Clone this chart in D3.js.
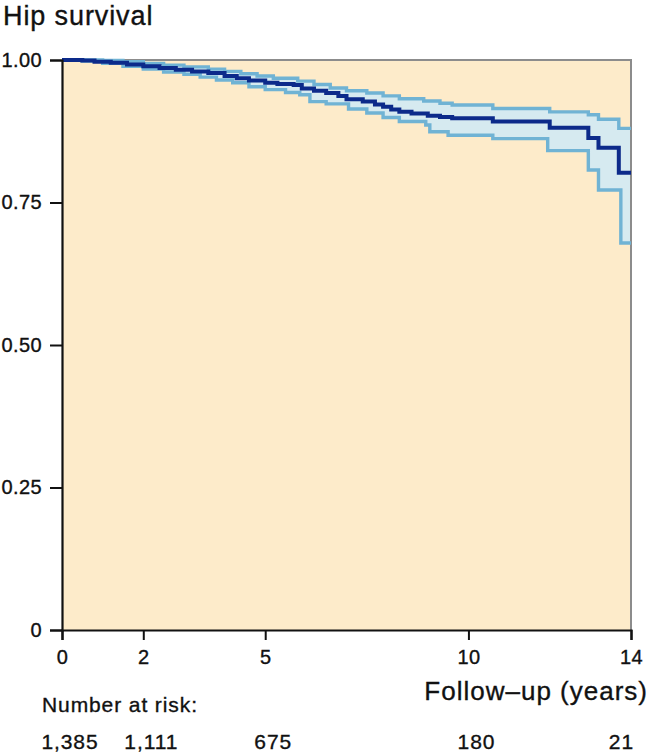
<!DOCTYPE html>
<html>
<head>
<meta charset="utf-8">
<script src="https://cdn.jsdelivr.net/npm/d3@7"></script>
<style>
  html, body { margin: 0; padding: 0; background: #ffffff; }
  svg { display: block; font-family: "Liberation Sans", Arial, Helvetica, sans-serif; }
</style>
</head>
<body>
<svg id="chart" width="650" height="753"></svg>
<script>
// ---------- data ----------
const mainT = [0, 0.5, 0.8, 1.2, 1.6, 2.0, 2.4, 2.8, 3.2, 3.6, 4.0, 4.3, 4.6, 5.0, 5.3, 5.7, 5.9, 6.2, 6.5, 6.8, 7.0, 7.4, 7.7, 7.9, 8.1, 8.3, 8.6, 9.0, 9.3, 9.6, 10.6, 12.0, 12.95, 13.2, 13.7];
const mainS = [1.0, 0.999, 0.997, 0.995, 0.992, 0.989, 0.986, 0.983, 0.980, 0.977, 0.972, 0.968, 0.964, 0.960, 0.958, 0.956, 0.950, 0.946, 0.942, 0.937, 0.931, 0.927, 0.922, 0.918, 0.913, 0.909, 0.906, 0.902, 0.900, 0.898, 0.892, 0.881, 0.863, 0.846, 0.802];

const upperT = [0, 0.5, 1.0, 1.5, 2.0, 2.5, 3.0, 3.6, 4.0, 4.4, 4.8, 5.2, 5.8, 6.2, 6.6, 7.0, 7.5, 7.9, 8.3, 8.9, 9.3, 9.6, 10.6, 12.0, 12.95, 13.2, 13.7];
const upperS = [1.0, 1.0, 0.999, 0.997, 0.994, 0.991, 0.988, 0.984, 0.980, 0.976, 0.972, 0.968, 0.963, 0.957, 0.951, 0.946, 0.942, 0.937, 0.932, 0.928, 0.924, 0.921, 0.915, 0.909, 0.904, 0.896, 0.880];

const lowerT = [0, 0.5, 1.0, 1.5, 2.0, 2.5, 3.0, 3.4, 3.8, 4.2, 4.6, 5.0, 5.5, 5.85, 6.1, 6.5, 7.05, 7.5, 7.9, 8.3, 8.95, 9.05, 9.5, 10.6, 11.95, 12.95, 13.2, 13.75];
const lowerS = [1.0, 0.998, 0.994, 0.989, 0.984, 0.979, 0.975, 0.970, 0.965, 0.960, 0.953, 0.948, 0.943, 0.939, 0.927, 0.923, 0.914, 0.907, 0.899, 0.892, 0.886, 0.874, 0.868, 0.862, 0.841, 0.807, 0.772, 0.679];

const xTicks = [0, 2, 5, 10, 14];
const yTicks = [0, 0.25, 0.5, 0.75, 1.0];
const riskTimes = [0, 2, 5, 10, 14];
const riskCounts = ["1,385", "1,111", "675", "180", "21"];

const titleText = "Hip survival";
const xLabelText = "Follow\u2013up (years)";
const riskLabelText = "Number at risk:";

// ---------- layout ----------
const W = 650, H = 753;
const margin = { left: 62, top: 60, right: 19, bottom: 123 };
const innerW = W - margin.left - margin.right;
const innerH = H - margin.top - margin.bottom;
const tMax = 14;
const ink = "#111111";

const svg = d3.select("#chart");
const x = d3.scaleLinear().domain([0, tMax]).range([margin.left, margin.left + innerW]);
const y = d3.scaleLinear().domain([0, 1]).range([margin.top + innerH, margin.top]);

const toPts = (T, S) => T.map((t, i) => ({ t, s: S[i] })).concat([{ t: tMax, s: S[S.length - 1] }]);
const mainPts = toPts(mainT, mainS);
const upperPts = toPts(upperT, upperS);
const lowerPts = toPts(lowerT, lowerS);

function stepAt(T, S, t) {
  const i = d3.bisectRight(T, t) - 1;
  return S[Math.max(0, i)];
}
const bandTimes = Array.from(new Set(upperT.concat(lowerT, [tMax]))).sort((a, b) => a - b);
const bandPts = bandTimes.map(t => ({ t, hi: stepAt(upperT, upperS, t), lo: stepAt(lowerT, lowerS, t) }));

// plot background
svg.append("rect")
  .attr("x", x(0)).attr("y", y(1))
  .attr("width", x(tMax) - x(0)).attr("height", y(0) - y(1))
  .attr("fill", "#fdebca");

// CI band
svg.append("path")
  .datum(bandPts)
  .attr("fill", "#d6eaf0")
  .attr("d", d3.area().curve(d3.curveStepAfter)
    .x(d => x(d.t)).y0(d => y(d.lo)).y1(d => y(d.hi)));

// frame top/right (grey)
svg.append("path")
  .attr("d", `M${x(0)},${y(1)}H${x(tMax)}V${y(0)}`)
  .attr("fill", "none").attr("stroke", "#8c8c8c").attr("stroke-width", 2);

const line = d3.line().curve(d3.curveStepAfter).x(d => x(d.t)).y(d => y(d.s));

svg.append("path").datum(upperPts).attr("d", line)
  .attr("fill", "none").attr("stroke", "#70b3d4").attr("stroke-width", 3.4);
svg.append("path").datum(lowerPts).attr("d", line)
  .attr("fill", "none").attr("stroke", "#70b3d4").attr("stroke-width", 3.4);
svg.append("path").datum(mainPts).attr("d", line)
  .attr("fill", "none").attr("stroke", "#0c2a8a").attr("stroke-width", 4);

// text styling helper
function styleText(sel, size, spacing) {
  sel.attr("font-size", size).attr("fill", ink)
    .attr("stroke", ink).attr("stroke-width", 0.35)
    .attr("letter-spacing", spacing)
    .attr("font-family", "Liberation Sans, Arial, sans-serif");
}

// axes
const yAxis = d3.axisLeft(y).tickValues(yTicks)
  .tickFormat(d => d === 0 ? "0" : d3.format(".2f")(d))
  .tickSize(12).tickPadding(8);
const gy = svg.append("g").attr("transform", `translate(${x(0)},0)`).call(yAxis);
gy.select(".domain").attr("stroke", ink).attr("stroke-width", 2.2);
gy.selectAll(".tick line").attr("stroke", ink).attr("stroke-width", 2);
styleText(gy.selectAll(".tick text"), 20, 0.4);

const xAxis = d3.axisBottom(x).tickValues(xTicks).tickFormat(d3.format("d"))
  .tickSize(10).tickPadding(10);
const gx = svg.append("g").attr("transform", `translate(0,${y(0)})`).call(xAxis);
gx.select(".domain").attr("stroke", ink).attr("stroke-width", 2.2);
gx.selectAll(".tick line").attr("stroke", ink).attr("stroke-width", 2);
styleText(gx.selectAll(".tick text"), 20, 0.4);

// title
styleText(svg.append("text").attr("x", 3).attr("y", 25).text(titleText), 27, 0.9);

// x label
styleText(svg.append("text").attr("x", 648).attr("y", 700)
  .attr("text-anchor", "end").text(xLabelText), 26, 1);

// number at risk
styleText(svg.append("text").attr("x", 42).attr("y", 712).text(riskLabelText), 21, 0.9);

styleText(svg.append("g").selectAll("text")
  .data(riskTimes.map((t, i) => ({ t, n: riskCounts[i], last: i === riskTimes.length - 1 })))
  .join("text")
  .attr("x", d => d.last ? x(d.t) + 3 : x(d.t) + 8)
  .attr("y", 749)
  .attr("text-anchor", d => d.last ? "end" : "middle")
  .text(d => d.n), 21, 0.9);
</script>
</body>
</html>
